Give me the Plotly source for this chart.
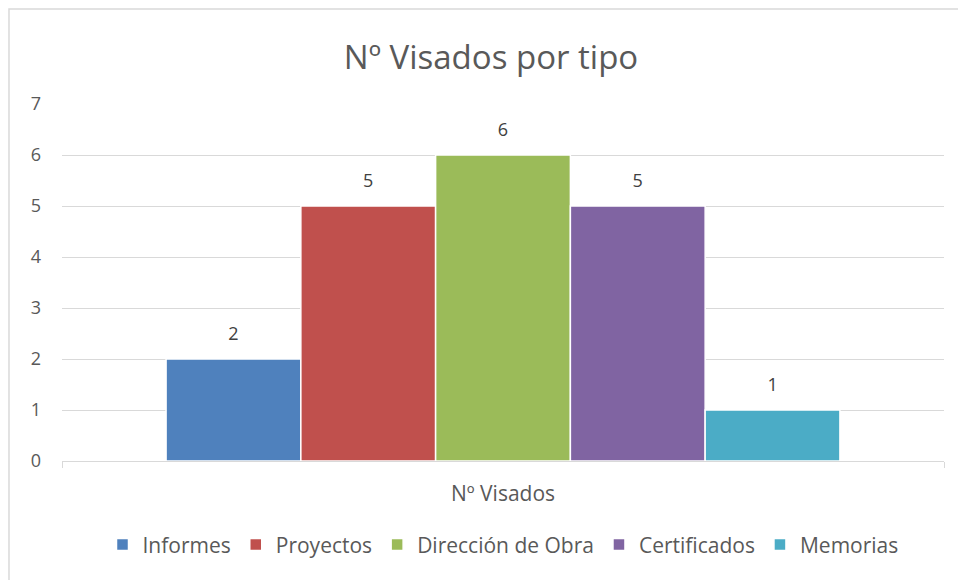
import plotly.graph_objects as go

# data
categories = ["Nº Visados"]
series_names = ["Informes", "Proyectos", "Dirección de Obra", "Certificados", "Memorias"]
series_values = [[2], [5], [6], [5], [1]]
series_colors = ["#4f81bd", "#c0504d", "#9bbb59", "#8064a2", "#4bacc6"]

fig = go.Figure()
for name, vals, color in zip(series_names, series_values, series_colors):
    fig.add_trace(go.Bar(
        x=categories, y=vals, name=name,
        marker=dict(color=color, line=dict(color="white", width=1.5)),
        # small spacer line lifts the label off the bar top like Excel does
        text=[f"<span style='font-size:18px'>{v}</span><br> " for v in vals],
        textposition="outside", cliponaxis=False,
        textfont=dict(size=10, color="#404040"),
    ))

fig.update_layout(
    title=dict(text="Nº Visados por tipo", x=0.5, xanchor="center", y=0.915, yanchor="middle",
               font=dict(size=33, color="#595959")),
    width=966, height=580,
    margin=dict(l=54, r=30, t=96, b=127),
    paper_bgcolor="white", plot_bgcolor="white",
    font=dict(family="Open Sans, Noto Sans, sans-serif", size=18, color="#595959"),
    barmode="group", bargap=0.236, bargroupgap=0,
    showlegend=True,
    legend=dict(orientation="h", x=0.5, xanchor="center", y=-0.235, yanchor="middle",
                font=dict(size=21, color="#595959"), itemwidth=30),
    # chart frame, cut off at the right and bottom edges
    shapes=[dict(type="rect", xref="paper", yref="paper",
                 x0=-0.0601, x1=1.05, y0=-0.4, y1=1.266,
                 line=dict(color="#d9d9d9", width=1.5), fillcolor="rgba(0,0,0,0)", layer="below")],
)
fig.update_xaxes(
    range=[-0.5, 0.5], showgrid=False, showline=True, linecolor="#d9d9d9", linewidth=1,
    ticks="outside", tickson="boundaries", ticklen=6, tickcolor="#d9d9d9",
    ticklabelstandoff=14, tickfont=dict(size=21, color="#595959"),
)
fig.update_yaxes(
    range=[0, 7], dtick=1, showgrid=True, gridcolor="#d9d9d9", gridwidth=1,
    zeroline=False, showline=False, ticks="", ticklabelstandoff=20,
    tickfont=dict(size=18, color="#595959"),
)

fig.write_html("out.html")
